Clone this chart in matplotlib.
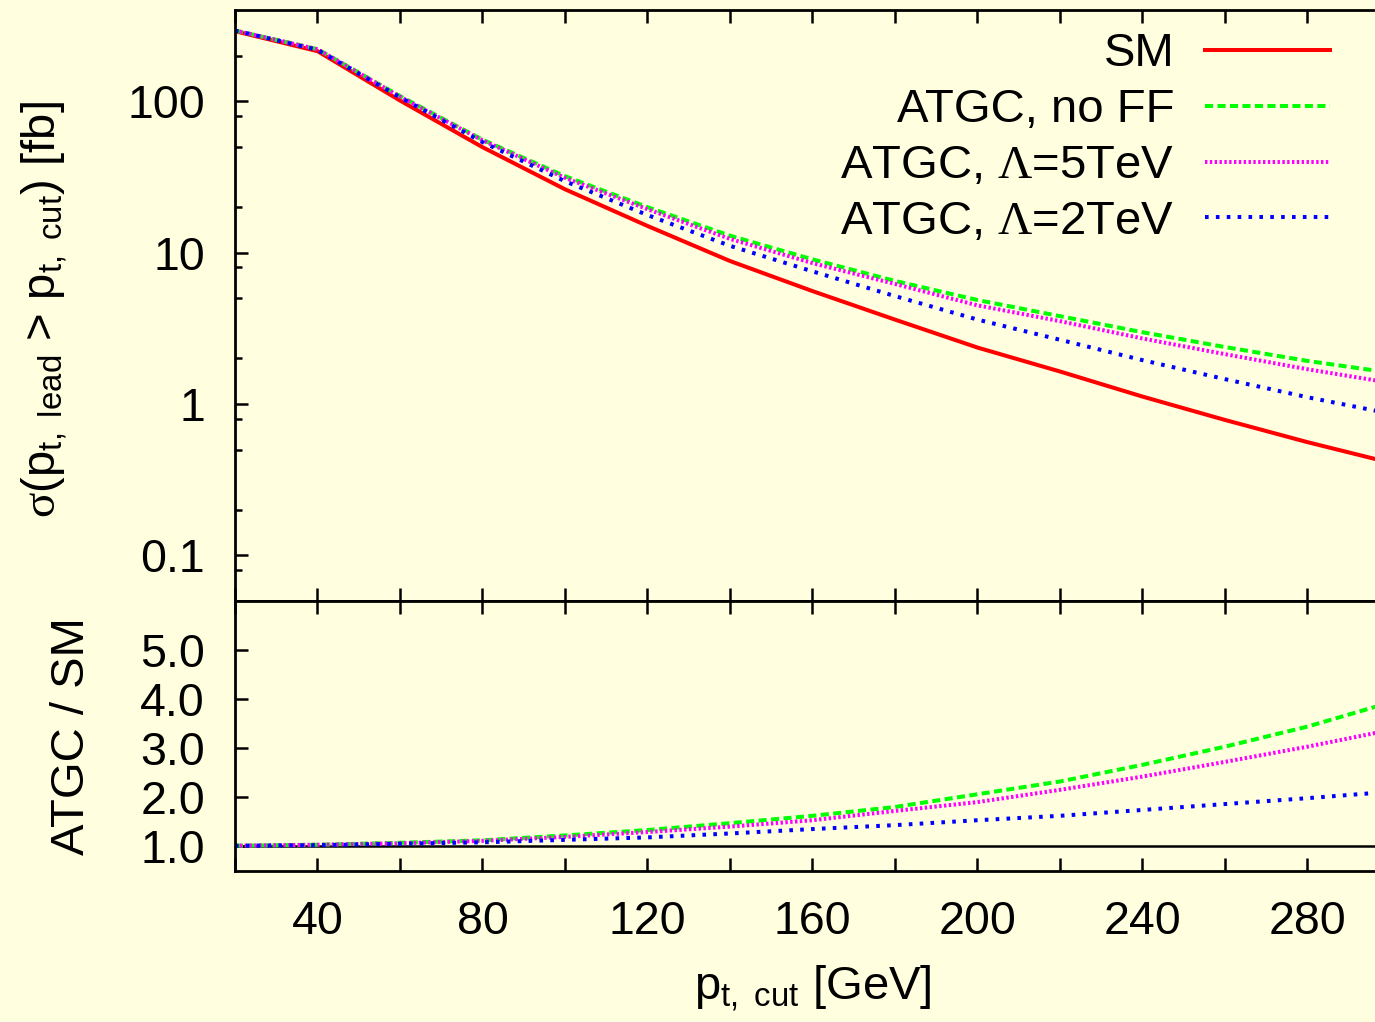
import matplotlib
matplotlib.use('Agg')
import matplotlib.pyplot as plt
from matplotlib.ticker import FixedLocator, FixedFormatter, NullFormatter, FormatStrFormatter

plt.rcParams['font.family'] = ['Liberation Sans', 'DejaVu Sans']
plt.rcParams['mathtext.fontset'] = 'custom'
plt.rcParams['mathtext.rm'] = 'Liberation Sans'
plt.rcParams['mathtext.it'] = 'Liberation Sans:italic'
plt.rcParams['mathtext.sf'] = 'Liberation Serif'
plt.rcParams['mathtext.default'] = 'regular'

# data
pt_cut = [20, 40, 60, 80, 100, 120, 140, 160, 180, 200, 220, 240, 260, 280, 300]
sigma_sm = [290, 214, 101, 49.7, 26.2, 15.0, 8.8, 5.57, 3.61, 2.36, 1.64, 1.12, 0.785, 0.56, 0.41]
ratio_noff = [1.01, 1.03, 1.07, 1.12, 1.22, 1.33, 1.47, 1.62, 1.80, 2.06, 2.32, 2.66, 3.03, 3.44, 3.93]
ratio_l5 = [1.01, 1.03, 1.06, 1.11, 1.19, 1.29, 1.40, 1.53, 1.72, 1.90, 2.15, 2.42, 2.72, 3.03, 3.37]
ratio_l2 = [1.01, 1.02, 1.05, 1.08, 1.13, 1.18, 1.26, 1.35, 1.43, 1.53, 1.62, 1.74, 1.86, 1.98, 2.11]

labels = ['SM', 'ATGC, no FF', r'ATGC, $\mathsf{\Lambda}$=5TeV', r'ATGC, $\mathsf{\Lambda}$=2TeV']
colors = ['#ff0000', '#00ff00', '#ff00ff', '#0000ff']
styles = ['-', (0, (2.0, 1.1)), (0, (0.6, 0.6)), (0, (0.9, 1.8))]

# cross sections with couplings = SM * ratio
ratios = [ratio_noff, ratio_l5, ratio_l2]
sigmas = [sigma_sm] + [[s * r for s, r in zip(sigma_sm, rat)] for rat in ratios]

bg = '#ffffe0'
fs = 34
fs_tick = 33.5
lw = 2.9

fig = plt.figure(figsize=(13.75, 10.22), dpi=100, facecolor=bg)
ax1 = fig.add_axes([0.1709, 0.4119, 0.8400, 0.5783], facecolor=bg)
ax2 = fig.add_axes([0.1709, 0.1480, 0.8400, 0.2639], facecolor=bg)

for sig, lab, c, ls in zip(sigmas, labels, colors, styles):
    ax1.plot(pt_cut, sig, color=c, linestyle=ls, lw=lw, label=lab)

ax2.axhline(1.0, color='black', lw=1.8, zorder=1)
for rat, c, ls in zip(ratios, colors[1:], styles[1:]):
    ax2.plot(pt_cut, rat, color=c, linestyle=ls, lw=lw, zorder=2)

ax1.set_yscale('log')
ax1.set_ylim(0.05, 400)
ax2.set_ylim(0.5, 6.0)
for ax in (ax1, ax2):
    ax.set_xlim(20, 300)
    ax.xaxis.set_major_locator(FixedLocator([40, 80, 120, 160, 200, 240, 280]))
    ax.xaxis.set_minor_locator(FixedLocator([20, 60, 100, 140, 180, 220, 260, 300]))
    ax.xaxis.set_minor_formatter(NullFormatter())
    ax.tick_params(which='both', direction='in', top=True, right=True,
                   width=1.8, labelsize=fs_tick, color='black')
    ax.tick_params(axis='x', which='both', length=9.4, pad=21)
    ax.tick_params(axis='y', which='major', length=9.4, pad=21.6)
    ax.tick_params(axis='y', which='minor', length=5)
    for sp in ax.spines.values():
        sp.set_linewidth(2.0)

ax1.yaxis.set_major_locator(FixedLocator([0.1, 1, 10, 100]))
ax1.yaxis.set_major_formatter(FixedFormatter(['0.1', '1', '10', '100']))
minor_y = [m * 10.0 ** e for e in range(-2, 3) for m in (2, 5, 8)]
ax1.yaxis.set_minor_locator(FixedLocator(minor_y))
ax1.yaxis.set_minor_formatter(NullFormatter())
ax1.tick_params(axis='x', labelbottom=False)

ax2.yaxis.set_major_locator(FixedLocator([1, 2, 3, 4, 5]))
ax2.yaxis.set_major_formatter(FormatStrFormatter('%.1f'))
ax2.yaxis.set_minor_locator(FixedLocator([]))

ax2.set_xlabel(r'p$_{t,\ cut}$ [GeV]', fontsize=fs, labelpad=14)

fig.text(0.0325, 0.6967, r'$\mathsf{\sigma}$(p$_{t,\ lead}$ > p$_{t,\ cut}$) [fb]',
         rotation=90, ha='center', va='center', fontsize=fs)
fig.text(0.0524, 0.2798, 'ATGC / SM', rotation=90, ha='center', va='center', fontsize=fs)

ax1.legend(loc='upper right', bbox_to_anchor=(0.948, 0.962), frameon=False,
           markerfirst=False, fontsize=fs, handlelength=2.65, handletextpad=0.64,
           labelspacing=0.25, borderpad=0, borderaxespad=0)

fig.savefig('out.png', dpi=100, facecolor=bg)
